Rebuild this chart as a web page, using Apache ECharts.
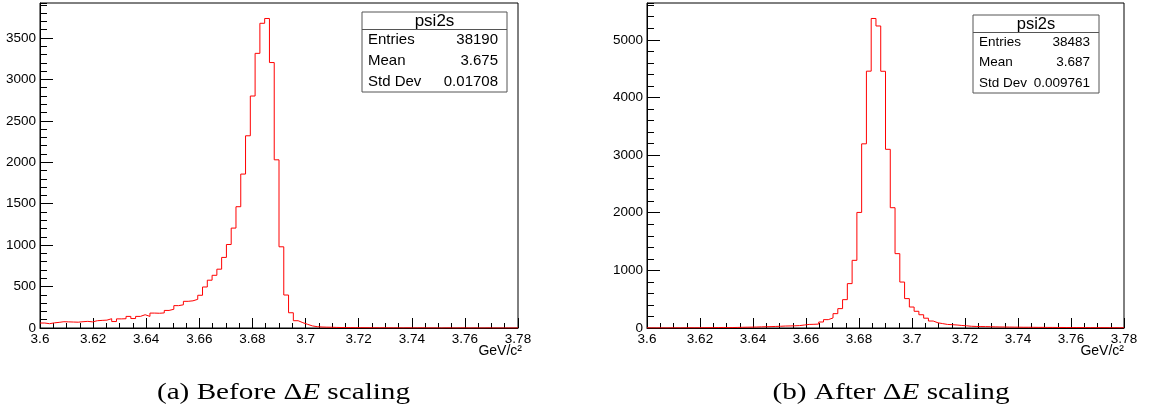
<!DOCTYPE html>
<html>
<head>
<meta charset="utf-8">
<script src="https://cdn.jsdelivr.net/npm/echarts@6/dist/echarts.min.js"></script>
<style>
  html, body { margin: 0; padding: 0; background: #fff; }
  #chart { width: 1150px; height: 414px; }
</style>
</head>
<body>
<div id="chart"></div>
<script>
// Histogram binning: 100 bins from 3.6 to 3.78 GeV/c^2
const X_MIN = 3.6;
const X_MAX = 3.78;
const BIN_WIDTH = 0.0018;
const X_TICK_STEP = 0.02;

// psi(2S) candidate counts per bin, before the Delta-E correction
const beforeCounts = [
  60, 52, 62, 68, 76, 74, 72, 70, 76, 80,
  74, 88, 92, 95, 112, 78, 110, 112, 140, 114,
  140, 160, 140, 180, 178, 182, 212, 226, 270, 280,
  322, 328, 346, 395, 495, 577, 636, 710, 852, 1008,
  1206, 1464, 1858, 2320, 2800, 3315, 3678, 3736, 3204, 2030,
  980, 398, 184, 88, 64, 44, 25, 16, 12, 10,
  9, 7, 6, 5, 5, 4, 4, 3, 3, 3,
  2, 3, 2, 2, 2, 1, 2, 1, 1, 2,
  1, 1, 1, 0, 1, 1, 0, 1, 1, 0,
  1, 0, 0, 1, 0, 0, 0, 0, 0, 0
];

// psi(2S) candidate counts per bin, after the Delta-E correction
const afterCounts = [
  2, 1, 2, 1, 2, 3, 2, 3, 4, 3,
  4, 5, 5, 6, 8, 9, 7, 8, 10, 12,
  14, 15, 17, 20, 22, 24, 27, 30, 34, 36,
  38, 42, 52, 62, 64, 68, 104, 145, 174, 249,
  336, 492, 770, 1174, 2005, 3195, 4456, 5370, 5240, 4454,
  3100, 2087, 1290, 797, 510, 364, 290, 230, 170, 121,
  90, 76, 62, 58, 52, 44, 38, 30, 27, 25,
  24, 22, 20, 18, 17, 16, 15, 14, 13, 13,
  12, 11, 11, 10, 10, 9, 9, 8, 8, 8,
  7, 7, 6, 6, 6, 5, 5, 5, 4, 4
];

// Statistics box contents
const histName = 'psi2s';
const statLabels = ['Entries', 'Mean', 'Std Dev'];
const beforeStats = ['38190', '3.675', '0.01708'];
const afterStats = ['38483', '3.687', '0.009761'];

const unitLabel = 'GeV/c²';
const captionsText = ['(a) Before Δ{i|E} scaling', '(b) After Δ{i|E} scaling'];

const SANS = '"Liberation Sans", Arial, Helvetica, sans-serif';
const SERIF = '"Liberation Serif", "Times New Roman", serif';
const LABEL_FS = 13.5;

// Left-edge points of each bin plus the closing edge, drawn as a step outline
function stepPoints(counts) {
  const pts = counts.map((c, i) => [+(X_MIN + i * BIN_WIDTH).toFixed(4), c]);
  pts.push([X_MAX, counts[counts.length - 1]]);
  return pts;
}

// ROOT-style headroom above the tallest bin
function yTop(counts) {
  return Math.max.apply(null, counts) * 1.05;
}

const grids = [
  { left: 40, top: 3, width: 478, height: 325 },
  { left: 647, top: 3, width: 477, height: 325 }
];

function xAxisFor(gridIndex) {
  return {
    type: 'value', gridIndex: gridIndex,
    min: X_MIN, max: X_MAX, interval: X_TICK_STEP,
    axisLine: { show: true, onZero: false, lineStyle: { color: '#000', width: 1 } },
    axisTick: { show: true, inside: true, length: 10, lineStyle: { color: '#000', width: 1 } },
    minorTick: { show: true, splitNumber: 4, length: 5, lineStyle: { color: '#000', width: 1 } },
    axisLabel: {
      margin: 4, fontSize: LABEL_FS, color: '#000', fontFamily: SANS,
      formatter: v => String(+v.toFixed(2))
    },
    splitLine: { show: false }
  };
}

function yMajorAxis(gridIndex, top, step) {
  return {
    type: 'value', gridIndex: gridIndex, position: 'left', offset: 0,
    min: 0, max: top, interval: step,
    axisLine: { show: true, lineStyle: { color: '#000', width: 1 } },
    axisTick: { show: true, inside: true, length: 13, lineStyle: { color: '#000', width: 1 } },
    axisLabel: {
      margin: 4, fontSize: LABEL_FS, color: '#000', fontFamily: SANS,
      showMaxLabel: false,
      formatter: v => String(Math.round(v))
    },
    splitLine: { show: false }
  };
}

function yMinorAxis(gridIndex, top, step) {
  return {
    type: 'value', gridIndex: gridIndex, position: 'left', offset: 0,
    min: 0, max: top, interval: step,
    axisLine: { show: false },
    axisTick: { show: true, inside: true, length: 7, lineStyle: { color: '#000', width: 1 } },
    axisLabel: { show: false },
    splitLine: { show: false }
  };
}

function statsBox(x, y, w, h, titleH, fs, titleFs, values) {
  const children = [
    { type: 'rect', shape: { x: x, y: y, width: w, height: h },
      style: { fill: '#fff', stroke: '#555', lineWidth: 1 } },
    { type: 'line', shape: { x1: x, y1: y + titleH, x2: x + w, y2: y + titleH },
      style: { stroke: '#555', lineWidth: 1 } },
    { type: 'text', x: x + w / 2, y: y + titleH / 2 + 0.5,
      style: { text: histName, fontSize: titleFs, fontFamily: SANS, fill: '#000',
               textAlign: 'center', textVerticalAlign: 'middle' } }
  ];
  const rowH = (h - titleH) / statLabels.length;
  statLabels.forEach((lab, i) => {
    const cy = y + titleH + rowH * (i + 0.5);
    children.push({ type: 'text', x: x + 6, y: cy,
      style: { text: lab, fontSize: fs, fontFamily: SANS, fill: '#000',
               textAlign: 'left', textVerticalAlign: 'middle' } });
    children.push({ type: 'text', x: x + w - 9, y: cy,
      style: { text: values[i], fontSize: fs, fontFamily: SANS, fill: '#000',
               textAlign: 'right', textVerticalAlign: 'middle' } });
  });
  return { type: 'group', children: children };
}

function caption(text, cx, cy) {
  return {
    type: 'text', x: cx, y: cy, scaleX: 1.27,
    style: {
      text: text, fontSize: 23, fontFamily: SERIF, fill: '#000',
      textAlign: 'center', textVerticalAlign: 'middle',
      rich: { i: { fontSize: 23, fontFamily: SERIF, fontStyle: 'italic', fill: '#000' } }
    }
  };
}

function unitText(rightX) {
  return {
    type: 'text', x: rightX, y: 351,
    style: { text: unitLabel, fontSize: 14, fontFamily: SANS, fill: '#000',
             textAlign: 'right', textVerticalAlign: 'middle' }
  };
}

const chart = echarts.init(document.getElementById('chart'), null, { renderer: 'canvas' });

chart.setOption({
  animation: false,
  backgroundColor: '#fff',
  grid: grids.map(g => Object.assign({ show: true, borderColor: '#000', borderWidth: 1,
                                       backgroundColor: 'transparent' }, g)),
  xAxis: [xAxisFor(0), xAxisFor(1)],
  yAxis: [
    yMajorAxis(0, yTop(beforeCounts), 500),
    yMinorAxis(0, yTop(beforeCounts), 100),
    yMajorAxis(1, yTop(afterCounts), 1000),
    yMinorAxis(1, yTop(afterCounts), 200)
  ],
  series: [
    { type: 'line', name: 'before', xAxisIndex: 0, yAxisIndex: 0, step: 'end',
      symbol: 'none', data: stepPoints(beforeCounts),
      lineStyle: { color: '#ff0000', width: 1 } },
    { type: 'line', name: 'after', xAxisIndex: 1, yAxisIndex: 2, step: 'end',
      symbol: 'none', data: stepPoints(afterCounts),
      lineStyle: { color: '#ff0000', width: 1 } }
  ],
  graphic: [
    statsBox(362, 12, 145, 80, 17.5, 15, 17, beforeStats),
    statsBox(973, 15, 126, 78, 17.5, 13.5, 16.5, afterStats),
    unitText(522),
    unitText(1124),
    caption(captionsText[0], 283.5, 393),
    caption(captionsText[1], 891, 393)
  ]
});
</script>
</body>
</html>
